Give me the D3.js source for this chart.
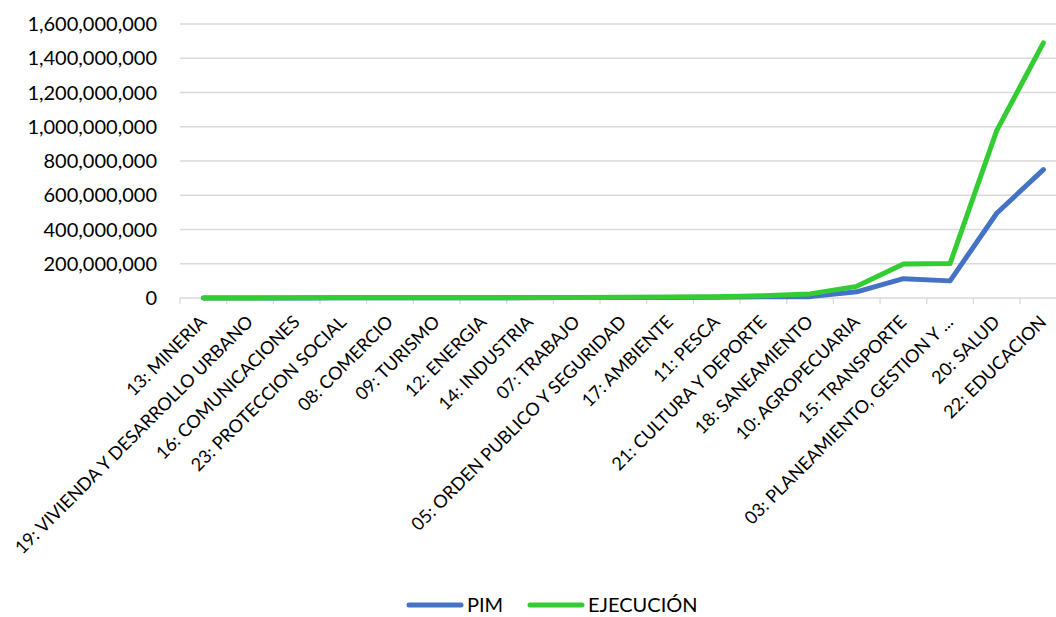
<!DOCTYPE html>
<html>
<head>
<meta charset="utf-8">
<script src="https://cdn.jsdelivr.net/npm/d3@7"></script>
<style>
  body { margin: 0; background: #fff; }
  text { font-family: Lato, "Open Sans", sans-serif; fill: #000; }
</style>
</head>
<body>
<svg width="1056" height="617"></svg>
<script>
// Funciones del presupuesto (orden del gráfico)
var funciones = ["13: MINERIA", "19: VIVIENDA Y DESARROLLO URBANO", "16: COMUNICACIONES",
                 "23: PROTECCION SOCIAL", "08: COMERCIO", "09: TURISMO", "12: ENERGIA",
                 "14: INDUSTRIA", "07: TRABAJO", "05: ORDEN PUBLICO Y SEGURIDAD",
                 "17: AMBIENTE", "11: PESCA", "21: CULTURA Y DEPORTE", "18: SANEAMIENTO",
                 "10: AGROPECUARIA", "15: TRANSPORTE", "03: PLANEAMIENTO, GESTION Y ...",
                 "20: SALUD", "22: EDUCACION"];

// Valores (soles)
var pim = [200000, 500000, 600000, 900000, 1000000, 1200000, 1500000,
           1800000, 2200000, 2500000, 3000000, 4000000, 7000000, 8000000,
           36000000, 113000000, 100000000, 495000000, 750000000];
var ejecucion = [300000, 600000, 800000, 1000000, 1300000, 1500000, 2000000,
                 2200000, 2800000, 4000000, 6000000, 8000000, 13000000, 24000000,
                 68000000, 199000000, 201000000, 977000000, 1490000000];

var ticksY = [0, 200000000, 400000000, 600000000, 800000000,
              1000000000, 1200000000, 1400000000, 1600000000];

var series = [
  {nome: "PIM", valores: pim, cor: "#4472c4"},
  {nome: "EJECUCIÓN", valores: ejecucion, cor: "#33cc33"}
];

var svg = d3.select("svg");

// Escalas
var x = d3.scaleBand()
    .domain(funciones)
    .range([180, 180 + 19 * 46.67]);
var y = d3.scaleLinear()
    .domain([0, 1600000000])
    .range([298, 24]);

// Grade horizontal
svg.append("g")
    .attr("class", "grade")
  .selectAll("line")
  .data(ticksY.slice(1))
  .enter().append("line")
    .attr("x1", 180)
    .attr("x2", 1056)
    .attr("y1", function(d){ return y(d); })
    .attr("y2", function(d){ return y(d); })
    .attr("stroke", "#d9d9d9")
    .attr("stroke-width", 1.3);

// Eixo Y (somente rótulos)
var fmt = d3.format(",");
svg.append("g")
  .selectAll("text")
  .data(ticksY)
  .enter().append("text")
    .attr("x", 157)
    .attr("y", function(d){ return y(d); })
    .attr("dy", "0.36em")
    .attr("text-anchor", "end")
    .style("font-size", "20px")
    .text(function(d){ return fmt(d); });

// Eixo X: linha base e marcas entre categorias
var eixoX = svg.append("g").attr("class", "eixoX");
eixoX.append("line")
    .attr("x1", 180).attr("x2", 1056)
    .attr("y1", y(0)).attr("y2", y(0))
    .attr("stroke", "#d9d9d9")
    .attr("stroke-width", 1.3);
eixoX.selectAll("line.marca")
  .data(funciones)
  .enter().append("line")
    .attr("class", "marca")
    .attr("x1", function(d){ return x(d); })
    .attr("x2", function(d){ return x(d); })
    .attr("y1", y(0))
    .attr("y2", y(0) + 6)
    .attr("stroke", "#d9d9d9")
    .attr("stroke-width", 1.3);

// Rótulos rotacionados
eixoX.selectAll("text")
  .data(funciones)
  .enter().append("text")
    .attr("transform", function(d){
      return "translate(" + (x(d) + x.bandwidth() / 2 - 5) + "," + 314 + ") rotate(-45)";
    })
    .attr("text-anchor", "end")
    .attr("dy", "0.72em")
    .style("font-size", "18px")
    .text(function(d){ return d; });

// Linhas das séries
var linha = d3.line()
    .x(function(d, i){ return x(funciones[i]) + x.bandwidth() / 2; })
    .y(function(d){ return y(d); });

svg.append("g")
  .selectAll("path")
  .data(series)
  .enter().append("path")
    .attr("d", function(s){ return linha(s.valores); })
    .attr("fill", "none")
    .attr("stroke", function(s){ return s.cor; })
    .attr("stroke-width", 5)
    .attr("stroke-linecap", "round")
    .attr("stroke-linejoin", "round");

// Legenda
var legenda = svg.append("g")
  .selectAll("g")
  .data(series)
  .enter().append("g")
    .attr("transform", function(d, i){ return "translate(" + (409 + i * 121) + ",605)"; });
legenda.append("line")
    .attr("x1", 0).attr("x2", 52)
    .attr("stroke", function(d){ return d.cor; })
    .attr("stroke-width", 5)
    .attr("stroke-linecap", "round");
legenda.append("text")
    .attr("x", 58)
    .attr("dy", "0.36em")
    .style("font-size", "20px")
    .text(function(d){ return d.nome; });
</script>
</body>
</html>
